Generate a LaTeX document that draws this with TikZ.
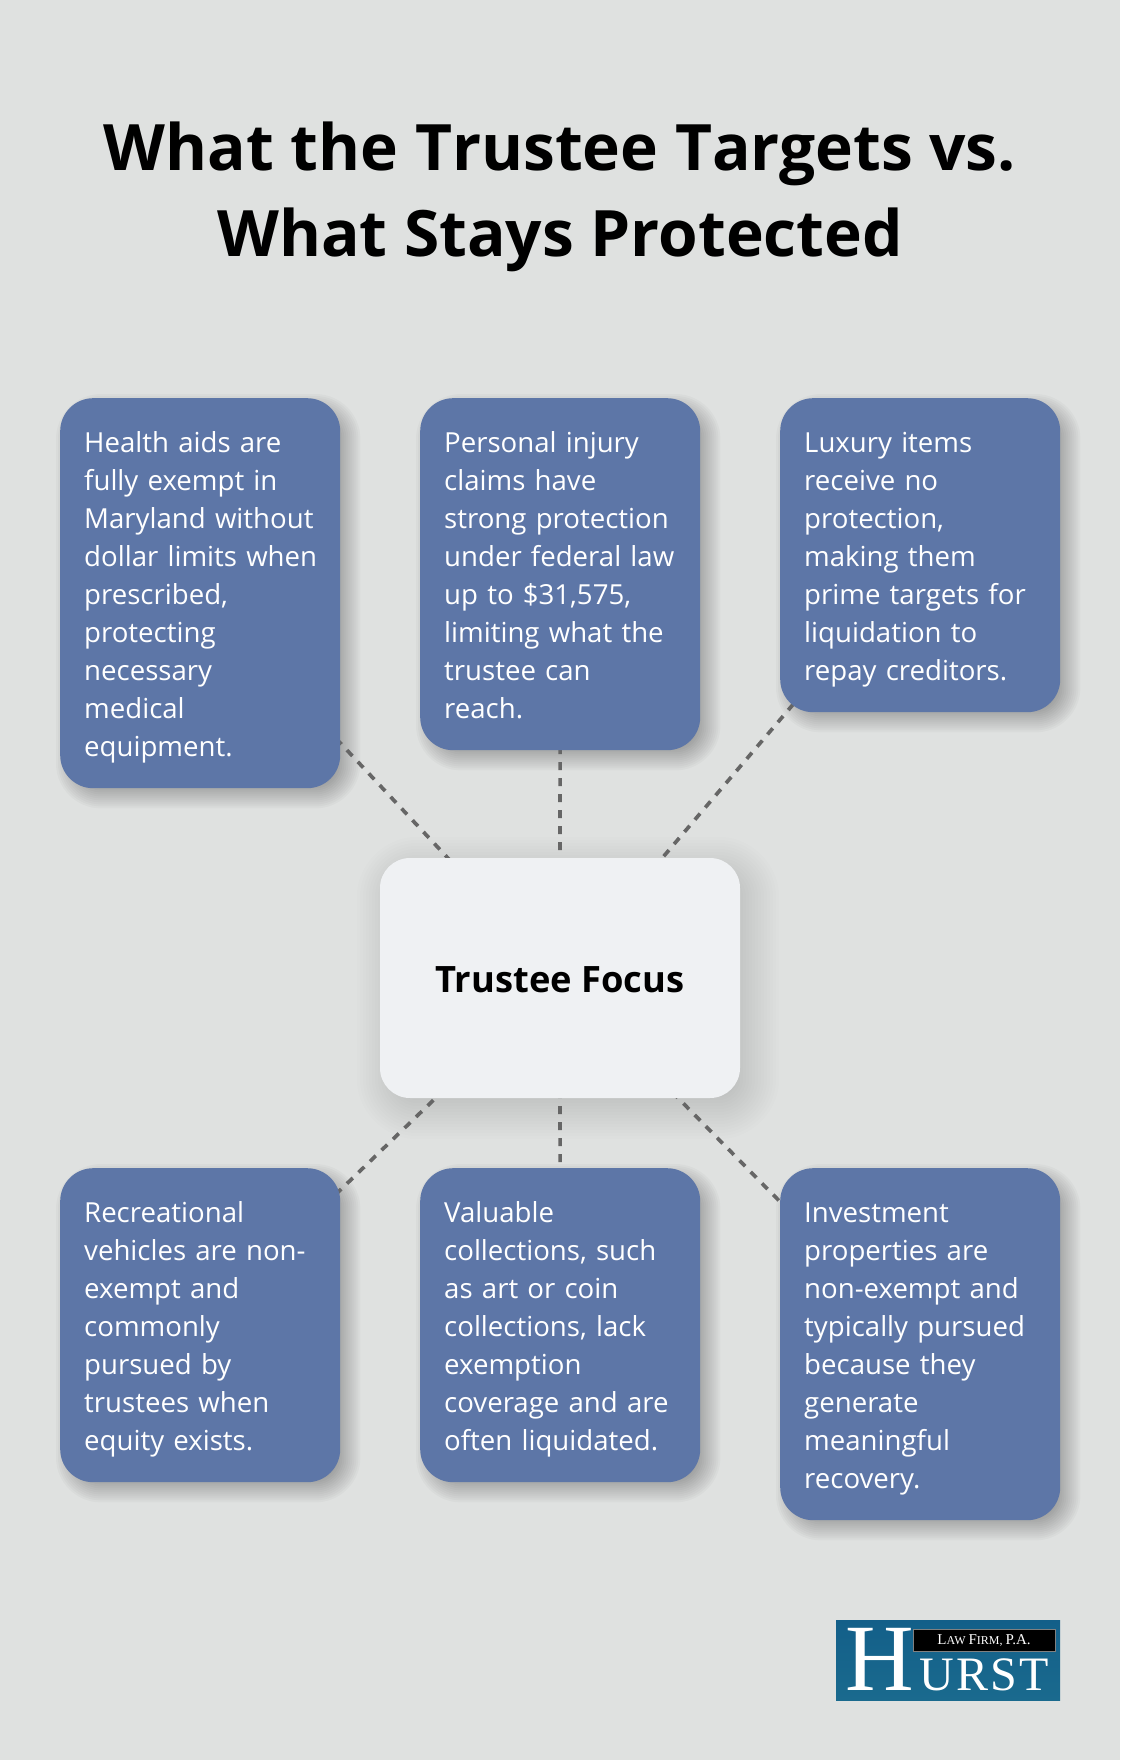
\documentclass[tikz,border=0pt]{standalone}
\usepackage{fontspec}
\setmainfont{Open Sans}
\newfontfamily\logofont{Liberation Serif}
\newfontfamily\logowide[LetterSpace=5]{Liberation Serif}
\usetikzlibrary{calc}
\definecolor{pagegray}{HTML}{DFE1E0}
\definecolor{leafblue}{HTML}{5D76A7}
\definecolor{focuswhite}{HTML}{EFF1F3}
\definecolor{dashgray}{HTML}{666666}
\definecolor{logotop}{HTML}{135F89}
\definecolor{logobottom}{HTML}{1A6A8E}
\pgfdeclarelayer{background}
\pgfsetlayers{background,main}

\begin{document}
\begin{tikzpicture}[x=1pt, y=-1pt]
        \tikzstyle{leaf}=[rounded corners=33pt, fill=leafblue, text=white, text width=232pt, inner sep=24pt, text height=30pt, align=left, anchor=north west, font=\fontsize{27.6}{38}\selectfont];
        \tikzstyle{focusbox}=[rounded corners=30pt, fill=focuswhite, minimum width=360pt, minimum height=240pt, text height=28pt, text depth=0pt, font=\fontsize{36.3}{44}\selectfont\bfseries];
        \tikzstyle{link}=[line width=3.7pt, dashgray, dash pattern=on 8pt off 8pt];

        \useasboundingbox (0, 0) rectangle (1120, 1760);

        \node[font=\fontsize{64}{86}\selectfont\bfseries, align=center] (title) at (560, 197) {What the T\kern0pt rustee T\kern0pt argets vs.\\What Stays Protected};

        \node[leaf, text depth=312pt] (health) at (60, 398) {Health aids are\\fully exempt in\\\mbox{Maryland without}\\\mbox{dollar limits when}\\prescribed,\\protecting\\necessary\\medical\\equipment.};
        \node[leaf, text depth=274pt] (injury) at (420, 398) {Personal injury\\claims have\\strong protection\\under federal law\\up to \$31,575,\\limiting what the\\trustee can\\reach.};
        \node[leaf, text depth=236pt] (luxury) at (780, 398) {Luxury items\\receive no\\protection,\\making them\\prime targets for\\liquidation to\\repay creditors.};

        \node[focusbox] (focus) at (560, 978) {Trustee Focus};

        \node[leaf, text depth=236pt] (vehicles) at (60, 1168) {Recreational\\vehicles are non-\\exempt and\\commonly\\pursued by\\trustees when\\equity exists.};
        \node[leaf, text depth=236pt] (collections) at (420, 1168) {Valuable\\collections, such\\as art or coin\\collections, lack\\exemption\\coverage and are\\often liquidated.};
        \node[leaf, text depth=274pt] (properties) at (780, 1168) {Investment\\properties are\\non-exempt and\\typically pursued\\because they\\generate\\meaningful\\recovery.};

        \begin{pgfonlayer}{background}
        \fill[pagegray] (0, 0) rectangle (1120, 1760);
        % soft shadows
        \foreach \n in {health, injury, luxury, vehicles, collections, properties}
            \foreach \r in {-10, -8, ..., 12}
                \fill[black, opacity=0.022, rounded corners={(33+\r)*1pt}] ($(\n.north west)+({8-\r}, {8-\r})$) rectangle ($(\n.south east)+({8+\r}, {8+\r})$);
        \foreach \r in {-20, -17, ..., 31}
            \fill[black, opacity=0.009, rounded corners={(30+\r)*1pt}] ($(focus.north west)+({8-\r}, {10-\r})$) rectangle ($(focus.south east)+({8+\r}, {10+\r})$);

        \draw (focus.center) edge[link] (health.center);
        \draw (focus.center) edge[link] (injury.center);
        \draw (focus.center) edge[link] (luxury.center);
        \draw (focus.center) edge[link] (vehicles.center);
        \draw (focus.center) edge[link] (collections.center);
        \draw (focus.center) edge[link] (properties.center);
        \end{pgfonlayer}

        % logo
        \node[top color=logotop, bottom color=logobottom, minimum width=224pt, minimum height=80pt, inner sep=0pt] (logo) at (948, 1660) {};
        \node[fill=black, draw=gray, line width=0.6pt, minimum width=142pt, minimum height=22pt, inner sep=0pt, text=white, font=\logofont\fontsize{15}{15}\selectfont] (firm) at (984, 1640) {L\fontsize{12}{15}\selectfont AW \fontsize{15}{15}\selectfont F\fontsize{12}{15}\selectfont IRM, \fontsize{15}{15}\selectfont P.A.};
        \node[text=white, inner sep=0pt, font=\logofont\fontsize{95}{95}\selectfont, anchor=base] (bigh) at (880, 1690) {H};
        \node[text=white, inner sep=0pt, font=\logowide\fontsize{48}{48}\selectfont, anchor=base west] (urst) at (919, 1690) {URST};
\end{tikzpicture}
\end{document}
